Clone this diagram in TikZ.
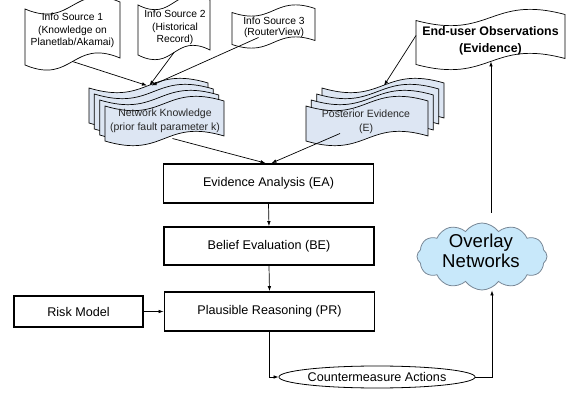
\documentclass[tikz,border=0pt]{standalone}
\usepackage{fontspec}
\setmainfont{Liberation Sans}
\usetikzlibrary{shapes.geometric,shapes.symbols,arrows.meta,calc}

\definecolor{stackfill}{RGB}{221,230,243}
\definecolor{cloudfill}{RGB}{200,232,250}
\definecolor{cloudline}{RGB}{120,135,150}

% #1 node name, #2 path style, #3 half tilt, #4 wave strength
\newcommand\tapepath[4]{%
\path[#2] ($(#1.north west)+(0,#3)$) .. controls ($(#1.north)+(0,#3+#4)$) and ($(#1.north)+(0,-#3-#4)$) .. ($(#1.north east)+(0,-#3)$)
  -- ($(#1.south east)+(0,-#3)$) .. controls ($(#1.south)+(0,-#3-#4)$) and ($(#1.south)+(0,#3+#4)$) .. ($(#1.south west)+(0,#3)$) -- cycle;}

\begin{document}
\begin{tikzpicture}[x=1pt,y=-1pt,
  shapebox/.style={inner sep=0pt, outer sep=0pt},
  tapeline/.style={draw=black, fill=white, line width=0.7pt},
  stackline/.style={draw=black, fill=stackfill, line width=0.7pt},
  istext/.style={align=center, inner sep=0pt, font=\fontsize{10.3}{12.5}\selectfont},
  sttext/.style={align=center, inner sep=0pt, text=black!85, font=\fontsize{10.5}{14}\selectfont},
  procbox/.style={draw, line width=1.8pt, minimum width=210pt, minimum height=38pt, inner sep=0pt, font=\fontsize{12.6}{15}\selectfont},
  conn/.style={-{Latex[length=5pt,width=3.6pt]}, line width=0.7pt}
]
\useasboundingbox (0,0) rectangle (571,393);

% info sources
\node[shapebox, minimum width=95pt, minimum height=56pt] (is1) at (72.5,33.5) {};
\tapepath{is1}{tapeline}{3.5}{20}
\node[istext] (is1t) at (72.5,30.5) {Info Source 1\\(Knowledge on\\Planetlab/Akamai)};

\node[shapebox, minimum width=72pt, minimum height=50pt] (is2) at (174,27.5) {};
\tapepath{is2}{tapeline}{2.5}{18}
\node[istext] (is2t) at (175,27.5) {Info Source 2\\(Historical\\Record)};

\node[shapebox, minimum width=83pt, minimum height=32pt] (is3) at (273.5,26.5) {};
\tapepath{is3}{tapeline}{2}{14}
\node[istext, font=\fontsize{10.3}{11.5}\selectfont] (is3t) at (274,27.5) {Info Source 3\\(RouterView)};

% end-user observations
\node[shapebox, minimum width=149pt, minimum height=44pt] (euo) at (490.5,39.5) {};
\tapepath{euo}{tapeline}{3}{20}
\node[align=center, inner sep=0pt, font=\bfseries\fontsize{12.4}{17}\selectfont] (euot) at (490.5,41) {End-user Observations\\(Evidence)};

% network knowledge stack
\node[shapebox, minimum width=119pt, minimum height=35pt] (nk3) at (148.5,103) {};
\node[shapebox, minimum width=119pt, minimum height=35pt] (nk2) at (153.8,109) {};
\node[shapebox, minimum width=119pt, minimum height=35pt] (nk1) at (159.2,115) {};
\node[shapebox, minimum width=119pt, minimum height=35pt] (nk) at (164.5,121) {};
\tapepath{nk3}{stackline}{2.5}{18}
\tapepath{nk2}{stackline}{2.5}{18}
\tapepath{nk1}{stackline}{2.5}{18}
\tapepath{nk}{stackline}{2.5}{18}
\node[sttext] (nkt) at (165,121) {Network Knowledge\\(prior fault parameter k)};

% posterior evidence stack
\node[shapebox, minimum width=122pt, minimum height=35pt] (pe3) at (383,103) {};
\node[shapebox, minimum width=122pt, minimum height=35pt] (pe2) at (377.7,109) {};
\node[shapebox, minimum width=122pt, minimum height=35pt] (pe1) at (372.3,115) {};
\node[shapebox, minimum width=122pt, minimum height=35pt] (pe) at (367,121) {};
\tapepath{pe3}{stackline}{2.5}{18}
\tapepath{pe2}{stackline}{2.5}{18}
\tapepath{pe1}{stackline}{2.5}{18}
\tapepath{pe}{stackline}{2.5}{18}
\node[sttext] (pet) at (366,122) {Posterior Evidence\\(E)};

% process boxes
\node[procbox, minimum height=39pt] (ea) at (268.5,183.5) {Evidence Analysis (EA)};
\node[procbox] (be) at (269,246) {Belief Evaluation (BE)};
\node[procbox, minimum height=39pt] (pr) at (269.5,311.5) {Plausible Reasoning (PR)};
\node[procbox, minimum width=129pt, minimum height=31pt] (risk) at (78.5,311.5) {Risk Model};

% countermeasure ellipse
\node[ellipse, draw, line width=0.8pt, minimum width=172pt, minimum height=22pt, inner sep=0pt, font=\fontsize{12.6}{15}\selectfont] (cm) at (377,377) {Countermeasure Actions};

% cloud
\node[cloud, cloud puffs=12, cloud puff arc=110, draw=cloudline, fill=cloudfill, line width=0.8pt, minimum width=130pt, minimum height=67pt, inner sep=0pt] (cloud) at (482,256.5) {};

% connectors
\draw[conn] (is1.south) -- ([xshift=-1.5pt]nk3.north);
\draw[conn] (is2.south) -- ([xshift=1pt]nk3.north);
\draw[conn] ([xshift=-15pt,yshift=5pt]is3.south) -- ([xshift=3pt]nk3.north);
\draw[conn] ([yshift=4pt]euo.west) -- ([xshift=1pt]pe3.north);
\draw[conn] ([xshift=8pt]nk.south) -- ([xshift=-3pt]ea.north);
\draw[conn] ([xshift=-27pt,yshift=5pt]pe.south) -- ([xshift=3pt]ea.north);
\draw[conn] (ea.south) -- (be.north);
\draw[conn] (be.south) -- (pr.north);
\draw[conn] (risk.east) -- (pr.west);
\draw[conn] (pr.south) |- (cm.west);
\draw[conn] (cm.east) -| ([xshift=10pt]cloud.south);
\draw[conn] ([xshift=9pt,yshift=10pt]cloud.north) -- ([xshift=0.5pt]euo.south);

\node[align=center, inner sep=0pt, font=\fontsize{18.6}{20.5}\selectfont] (cloudt) at (481,251) {Overlay\\Networks};
\end{tikzpicture}
\end{document}
